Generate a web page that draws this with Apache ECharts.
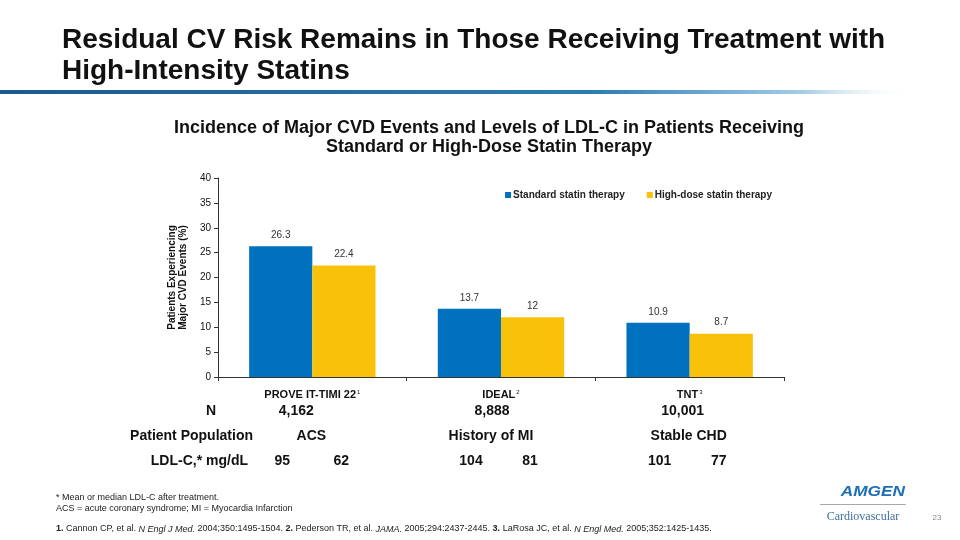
<!DOCTYPE html>
<html><head><meta charset="utf-8">
<script src="https://cdn.jsdelivr.net/npm/echarts@6/dist/echarts.min.js"></script>
<style>html,body{margin:0;padding:0;background:#fff}#c{width:960px;height:540px}</style>
</head><body><div id="c"></div>
<script>
var categories = ['PROVE IT-TIMI 22', 'IDEAL', 'TNT'];
var catRefs = ['1', '2', '3'];
var standardValues = [26.3, 13.7, 10.9];
var highDoseValues = [22.4, 12, 8.7];
var seriesNames = ['Standard statin therapy', 'High-dose statin therapy'];
var nValues = ['4,162', '8,888', '10,001'];
var populations = ['ACS', 'History of MI', 'Stable CHD'];
var ldlStandard = [95, 104, 101];
var ldlHigh = [62, 81, 77];

var FONT = '"Liberation Sans", Arial, sans-serif';
var chart = echarts.init(document.getElementById('c'));
var option = {
  backgroundColor: '#fff',
  animation: false,
  textStyle: { fontFamily: FONT },
  grid: { left: 218, right: 176, top: 178, bottom: 163 },
  legend: {
    right: 183, top: 185, itemWidth: 6, itemHeight: 6, itemGap: 22,
    icon: 'rect',
    textStyle: { fontSize: 10, fontWeight: 'bold', color: '#222', padding: [0, 0, 0, -3] },
    data: seriesNames
  },
  xAxis: {
    type: 'category', data: categories,
    axisLine: { lineStyle: { color: '#333' } },
    axisTick: { show: true, length: 4, lineStyle: { color: '#333' } },
    axisLabel: {
      margin: 12, color: '#111',
      formatter: function (v, i) { return '{b|' + v + '}{s|' + catRefs[i] + '}'; },
      rich: {
        b: { fontSize: 11, fontWeight: 'bold', color: '#111', fontFamily: FONT },
        s: { fontSize: 6, verticalAlign: 'top', color: '#111', padding: [0, 0, 6, 1], fontFamily: FONT }
      }
    }
  },
  yAxis: {
    type: 'value', min: 0, max: 40, interval: 5,
    name: 'Patients Experiencing\nMajor CVD Events (%)',
    nameLocation: 'middle', nameGap: 28, nameRotate: 90,
    nameTextStyle: { fontSize: 10, fontWeight: 'bold', color: '#111', lineHeight: 11 },
    axisLine: { show: true, lineStyle: { color: '#333' } },
    axisTick: { show: true, length: 4, lineStyle: { color: '#333' } },
    axisLabel: { fontSize: 10, color: '#111', margin: 7 },
    splitLine: { show: false }
  },
  series: [
    { name: seriesNames[0], type: 'bar', data: standardValues, barGap: '0%', barCategoryGap: '33%',
      itemStyle: { color: '#0071BF' },
      label: { show: true, position: 'top', fontSize: 10, color: '#333', distance: 6 } },
    { name: seriesNames[1], type: 'bar', data: highDoseValues,
      itemStyle: { color: '#F9C20A' },
      label: { show: true, position: 'top', fontSize: 10, color: '#333', distance: 6 } }
  ]
};
chart.setOption(option);

function txt(x, y, text, font, align, extra) {
  var st = { text: text, font: font, fill: '#111', align: align || 'left', verticalAlign: 'middle' };
  if (extra) for (var k in extra) st[k] = extra[k];
  return { type: 'text', x: x, y: y, style: st };
}

function buildGraphics() {
  var g = [];
  g.push(txt(62, 40, 'Residual CV Risk Remains in Those Receiving Treatment with', 'bold 28px ' + FONT, 'left'));
  g.push(txt(62, 71, 'High-Intensity Statins', 'bold 28px ' + FONT, 'left'));
  g.push({ type: 'rect', shape: { x: 0, y: 90, width: 915, height: 4 },
    style: { fill: new echarts.graphic.LinearGradient(0, 0, 1, 0, [
      { offset: 0, color: '#1b5a8e' }, { offset: 0.65, color: '#2c7db5' }, { offset: 0.88, color: '#a8cde6' }, { offset: 1, color: 'rgba(255,255,255,0)' }]) } });
  g.push(txt(489, 128, 'Incidence of Major CVD Events and Levels of LDL-C in Patients Receiving', 'bold 18px ' + FONT, 'center'));
  g.push(txt(489, 147, 'Standard or High-Dose Statin Therapy', 'bold 18px ' + FONT, 'center'));
  var rowN = 411, rowP = 436, rowL = 461;
  var TF = 'bold 14px ' + FONT;
  g.push(txt(216, rowN, 'N', TF, 'right'));
  g.push(txt(253, rowP, 'Patient Population', TF, 'right'));
  g.push(txt(248, rowL, 'LDL-C,* mg/dL', TF, 'right'));
  var nOff = [-16, -9, -7], pOff = [-1, -10, -1];
  for (var i = 0; i < categories.length; i++) {
    var cx = chart.convertToPixel({ xAxisIndex: 0 }, i);
    g.push(txt(cx + nOff[i], rowN, nValues[i], TF, 'center'));
    g.push(txt(cx + pOff[i], rowP, populations[i], TF, 'center'));
    g.push(txt(cx - 30, rowL, String(ldlStandard[i]), TF, 'center'));
    g.push(txt(cx + 29, rowL, String(ldlHigh[i]), TF, 'center'));
  }
  var FF = '9px ' + FONT;
  g.push(txt(56, 498, '* Mean or median LDL-C after treatment.', FF, 'left', { fill: '#222' }));
  g.push(txt(56, 509, 'ACS = acute coronary syndrome; MI = Myocardia Infarction', FF, 'left', { fill: '#222' }));
  var rs = { fontSize: 9, lineHeight: 11, fill: '#222', verticalAlign: 'middle', fontFamily: 'Liberation Sans' };
  g.push(txt(56, 529, '{b|1.}{n| Cannon CP, et al. }{i|N Engl J Med.}{n| 2004;350:1495-1504. }{b|2.}{n| Pederson TR, et al. }{i|JAMA.}{n| 2005;294:2437-2445. }{b|3.}{n| LaRosa JC, et al. }{i|N Engl Med.}{n| 2005;352:1425-1435.}', FF, 'left',
    { fill: '#222', rich: {
      n: rs,
      b: Object.assign({}, rs, { fontWeight: 'bold' }),
      i: Object.assign({}, rs, { fontStyle: 'italic' }) } }));
  g.push({ type: 'text', x: 905, y: 492, scaleX: 1.15, style: { text: 'AMGEN', font: 'italic bold 15px ' + FONT, fill: '#1d6fb8', align: 'right', verticalAlign: 'middle' } });
  g.push({ type: 'rect', shape: { x: 820, y: 504, width: 86, height: 1 }, style: { fill: '#aaa' } });
  g.push({ type: 'text', x: 863, y: 517, style: { text: 'Cardiovascular', font: '12px "Liberation Serif", "DejaVu Serif", serif', fill: '#3d6f9c', align: 'center', verticalAlign: 'middle' } });
  g.push({ type: 'text', x: 937, y: 518, style: { text: '23', font: '8px ' + FONT, fill: '#888', align: 'center', verticalAlign: 'middle' } });
  chart.setOption({ graphic: g });
}
buildGraphics();
</script></body></html>
